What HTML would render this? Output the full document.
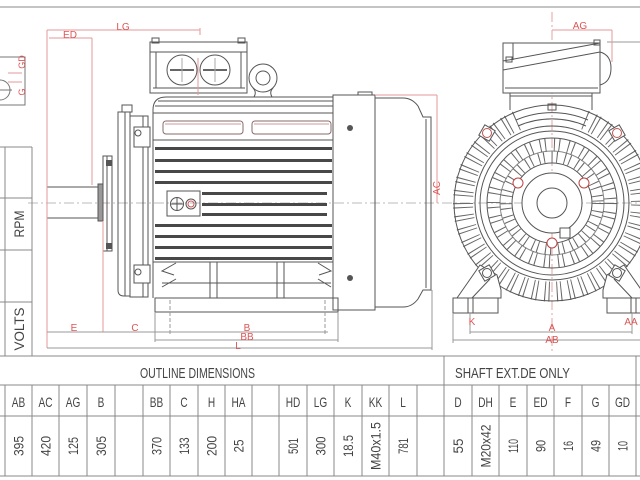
<!DOCTYPE html>
<html><head><meta charset="utf-8">
<style>
html,body{margin:0;padding:0;background:#fff;width:640px;height:480px;overflow:hidden}
svg{display:block}
text{font-family:"Liberation Sans",sans-serif}
</style></head><body>
<svg width="640" height="480" viewBox="0 0 640 480" xmlns="http://www.w3.org/2000/svg">
<rect width="640" height="480" fill="#fff"/>
<line x1="0" y1="7" x2="640" y2="7" stroke="#c4c4c4" stroke-width="2"/>

<!-- top-left shaft key detail -->
<g fill="none" stroke="#777" stroke-width="1">
  <rect x="-2" y="57" width="27" height="48"/>
  <circle cx="0" cy="90" r="10"/>
  <line x1="-5" y1="90" x2="12" y2="90"/>
</g>
<g stroke="#e59a9a" stroke-width="1">
  <line x1="8" y1="73" x2="22" y2="73"/>
  <line x1="8" y1="82" x2="22" y2="82"/>
</g>
<g fill="#d55" font-size="9">
  <text transform="translate(22 62) rotate(-90)" text-anchor="middle" dy="3">GD</text>
  <text transform="translate(22 92) rotate(-90)" text-anchor="middle" dy="3">G</text>
</g>

<!-- centerlines -->
<line x1="28" y1="203" x2="640" y2="203" stroke="#bbb" stroke-width="1" stroke-dasharray="10 3 2 3"/>
<line x1="552" y1="12" x2="552" y2="352" stroke="#e6a3a3" stroke-width="1" stroke-dasharray="10 3 2 3"/>

<!-- ===== SIDE VIEW ===== -->
<g fill="none" stroke="#555" stroke-width="1">
  <rect x="150" y="42" width="97" height="51"/>
  <line x1="150" y1="52" x2="247" y2="52"/>
  <rect x="152" y="38" width="7" height="5"/>
  <rect x="238" y="38" width="7" height="5"/>
  <line x1="156" y1="52" x2="156" y2="88"/>
  <line x1="241" y1="52" x2="241" y2="88"/>
  <line x1="153" y1="88" x2="245" y2="88"/>
  <circle cx="182" cy="70" r="15"/>
  <circle cx="215" cy="70" r="15"/>
  <line x1="170" y1="70" x2="194" y2="70" stroke="#666" stroke-width="2"/>
  <line x1="203" y1="70" x2="227" y2="70" stroke="#666" stroke-width="2"/>
  <line x1="182" y1="58" x2="182" y2="82" stroke="#aaa"/>
  <line x1="215" y1="58" x2="215" y2="82" stroke="#aaa"/>
  <circle cx="263" cy="78" r="14"/>
  <circle cx="263" cy="78" r="7"/>
  <path d="M253 88 Q257 92 254 97 M273 88 Q269 92 272 97"/>
  <path d="M153 298 V110 Q153 97 166 97 H333"/>
  <line x1="158" y1="101" x2="333" y2="101"/>
  <line x1="155" y1="106" x2="333" y2="106"/>
  <line x1="153" y1="113" x2="333" y2="113"/>
  <rect x="163" y="121" width="80" height="13" rx="3" stroke="#8a6a6a"/>
  <rect x="252" y="121" width="79" height="13" rx="3" stroke="#8a6a6a"/>
  <line x1="165" y1="124" x2="241" y2="124" stroke="#c99"/>
  <line x1="254" y1="124" x2="329" y2="124" stroke="#c99"/>
  <line x1="153" y1="140" x2="333" y2="140"/>
  <rect x="167" y="191" width="33" height="25"/>
  <circle cx="177" cy="204" r="6.5"/>
  <line x1="171" y1="204" x2="183" y2="204"/>
  <line x1="177" y1="198" x2="177" y2="210"/>
  <circle cx="191" cy="204" r="5"/>
  <circle cx="191" cy="204" r="3" stroke="#c55"/>
  <line x1="153" y1="262" x2="333" y2="262"/>
  <line x1="162" y1="283" x2="331" y2="283"/>
  <rect x="210" y="262" width="7" height="36"/>
  <rect x="277" y="262" width="7" height="36"/>
  <path d="M176 263 L162 271 L174 275 M176 279 L162 287"/>
  <path d="M318 263 L331 271 L319 275 M318 279 L331 287"/>
  <rect x="155" y="298" width="183" height="14"/>
  <line x1="333" y1="95" x2="333" y2="310"/>
  <rect x="333" y="95" width="42" height="215"/>
  <rect x="358" y="92" width="14" height="3"/>
  <path d="M375 98 H403 Q412 98 418 106 L423 117 H431 V290 H423 L418 299 Q412 307 403 307 H375"/>
  <line x1="426" y1="119" x2="426" y2="288"/>
  <path d="M118 112 V290 Q118 296 124 296 H130 V112 Z"/>
  <line x1="125" y1="112" x2="125" y2="296"/>
  <rect x="122" y="105" width="10" height="7"/>
  <rect x="130" y="116" width="18" height="181"/>
  <line x1="143" y1="116" x2="143" y2="297"/>
  <rect x="134" y="127" width="16" height="20" fill="#fff"/>
  <circle cx="138" cy="133" r="3"/>
  <rect x="134" y="265" width="16" height="18" fill="#fff"/>
  <circle cx="138" cy="272" r="3"/>
  <rect x="103" y="156" width="9" height="95"/>
  <line x1="107" y1="156" x2="107" y2="251"/>
  <rect x="47" y="187" width="51" height="31"/>
  <rect x="98" y="184" width="5" height="37" fill="#999"/>
</g>
<g fill="#555">
  <rect x="106" y="160" width="6" height="6"/>
  <rect x="106" y="243" width="6" height="6"/>
  <circle cx="350" cy="128" r="3"/>
  <circle cx="350" cy="278" r="3"/>
</g>
<g fill="#484848">
  <rect x="155" y="147" width="177" height="3"/>
  <rect x="155" y="159" width="177" height="3"/>
  <rect x="155" y="170" width="177" height="3"/>
  <rect x="155" y="181" width="177" height="3"/>
  <rect x="202" y="192" width="125" height="3"/>
  <rect x="202" y="203" width="125" height="3"/>
  <rect x="202" y="213" width="125" height="3"/>
  <rect x="155" y="224" width="177" height="3"/>
  <rect x="155" y="235" width="177" height="3"/>
  <rect x="155" y="246" width="177" height="3"/>
  <rect x="155" y="257" width="177" height="3"/>
</g>

<!-- side view dimensions -->
<g stroke="#e59a9a" stroke-width="1" fill="none">
  <line x1="47" y1="30" x2="200" y2="30"/>
  <line x1="200" y1="28" x2="200" y2="35"/>
  <line x1="47" y1="30" x2="47" y2="348"/>
  <line x1="49" y1="38" x2="92" y2="38"/>
  <line x1="92" y1="38" x2="92" y2="185"/>
  <line x1="198" y1="58" x2="198" y2="95"/>
  <line x1="103" y1="221" x2="103" y2="332"/>
  <line x1="375" y1="95" x2="437" y2="95"/>
  <line x1="437" y1="95" x2="437" y2="203"/>
</g>
<g stroke="#999" stroke-width="1" fill="none">
  <line x1="47" y1="332" x2="328" y2="332"/>
  <line x1="155" y1="340" x2="338" y2="340"/>
  <line x1="47" y1="348" x2="432" y2="348"/>
  <line x1="155" y1="312" x2="155" y2="342"/>
  <line x1="338" y1="312" x2="338" y2="342"/>
  <line x1="432" y1="290" x2="432" y2="350"/>
  <line x1="170" y1="300" x2="170" y2="334" stroke-dasharray="4 2"/>
  <line x1="325" y1="300" x2="325" y2="334" stroke-dasharray="4 2"/>
</g>
<g fill="#d55" font-size="10" text-anchor="middle">
  <text x="123" y="30">LG</text>
  <text x="70" y="38">ED</text>
  <text x="74" y="331">E</text>
  <text x="135" y="331">C</text>
  <text x="247" y="331">B</text>
  <text x="247" y="340">BB</text>
  <text x="238" y="349">L</text>
  <text transform="translate(437 188) rotate(-90)" dy="3">AC</text>
</g>

<!-- ===== FRONT VIEW ===== -->
<g fill="none" stroke="#555" stroke-width="1">
  <path d="M585 120 A89 89 0 1 1 519 120" stroke="#666" stroke-width="20" stroke-dasharray="1 7 1 3"/>
  <circle cx="552" cy="203" r="98"/>
  <circle cx="552" cy="203" r="77"/>
  <path d="M516 120 A91 91 0 0 1 588 120"/>
  <path d="M518 126 A85 85 0 0 1 586 126"/>
  <circle cx="552" cy="203" r="72"/>
  <circle cx="552" cy="203" r="65"/>
  <circle cx="552" cy="203" r="40"/>
  <circle cx="552" cy="203" r="52" stroke="#888"/>
  <circle cx="552" cy="203" r="58" stroke="#666" stroke-width="13" stroke-dasharray="1 8 1 4"/>
  <circle cx="552" cy="203" r="46" stroke="#666" stroke-width="11" stroke-dasharray="1 7 1 4"/>
  <circle cx="552" cy="203" r="30" fill="#fff"/>
  <circle cx="552" cy="203" r="15"/>
  <rect x="560" y="228" width="10" height="10" fill="#fff"/>
  <rect x="503" y="43" width="97" height="50" fill="#fff"/>
  <line x1="503" y1="61" x2="600" y2="43"/>
  <line x1="503" y1="70" x2="600" y2="52"/>
  <line x1="513" y1="43" x2="513" y2="60"/>
  <rect x="506" y="57" width="6" height="5"/>
  <rect x="594" y="40" width="6" height="5"/>
  <path d="M600 52 Q611 55 611 68 Q611 82 600 85"/>
  <line x1="505" y1="88" x2="598" y2="88"/>
  <path d="M510 93 V110 M592 93 V110 M510 96 H592" fill="#fff"/>
  <rect x="548" y="104" width="8" height="6"/>
  <path d="M457 298 L480 265 L497 275 L501 290 L501 298 Z" fill="#fff"/>
  <line x1="472" y1="298" x2="490" y2="279"/>
  <rect x="453" y="298" width="45" height="15" fill="#fff"/>
  <line x1="468" y1="298" x2="468" y2="313"/>
  <line x1="473" y1="298" x2="473" y2="313"/>
  <path d="M647 298 L624 265 L607 275 L603 290 L603 298 Z" fill="#fff"/>
  <line x1="632" y1="298" x2="614" y2="279"/>
  <rect x="607" y="298" width="45" height="15" fill="#fff"/>
  <line x1="631" y1="298" x2="631" y2="313"/>
  <line x1="636" y1="298" x2="636" y2="313"/>
  <rect x="481" y="127" width="12" height="12" transform="rotate(30 487 133)" fill="#fff"/>
  <circle cx="487" cy="133" r="4.5" stroke="#b55"/>
  <rect x="611" y="127" width="12" height="12" transform="rotate(-30 617 133)" fill="#fff"/>
  <circle cx="617" cy="133" r="4.5" stroke="#b55"/>
  <rect x="481" y="267" width="12" height="12" transform="rotate(-30 487 273)" fill="#fff"/>
  <circle cx="487" cy="273" r="4.5"/>
  <rect x="611" y="267" width="12" height="12" transform="rotate(30 617 273)" fill="#fff"/>
  <circle cx="617" cy="273" r="4.5"/>
  <circle cx="518" cy="183" r="5" stroke="#b44" fill="#fff"/>
  <circle cx="584" cy="183" r="5" stroke="#b44" fill="#fff"/>
  <circle cx="552" cy="243" r="5" stroke="#b44" fill="#fff"/>
</g>
<g stroke="#999" stroke-width="1" fill="none">
  <line x1="470" y1="332" x2="632" y2="332"/>
  <line x1="453" y1="340" x2="640" y2="340"/>
  <line x1="453" y1="313" x2="453" y2="343"/>
  <line x1="470" y1="313" x2="470" y2="334"/>
  <line x1="632" y1="313" x2="632" y2="334"/>
  <line x1="607" y1="42" x2="640" y2="42"/>
</g>
<g stroke="#e59a9a" stroke-width="1">
  <line x1="552" y1="30" x2="612" y2="30"/>
  <line x1="612" y1="30" x2="612" y2="62"/>
</g>
<g fill="#d55" font-size="10" text-anchor="middle">
  <text x="580" y="29">AG</text>
  <text x="472" y="325">K</text>
  <text x="631" y="325">AA</text>
  <text x="552" y="331">A</text>
  <text x="552" y="343">AB</text>
</g>

<!-- ===== LEFT PANEL ===== -->
<g stroke="#888" stroke-width="1">
  <line x1="0" y1="147" x2="32" y2="147"/>
  <line x1="0" y1="198" x2="32" y2="198"/>
  <line x1="0" y1="250" x2="32" y2="250"/>
  <line x1="0" y1="302" x2="32" y2="302"/>
  <line x1="5" y1="147" x2="5" y2="356"/>
  <line x1="32" y1="147" x2="32" y2="356"/>
</g>
<g fill="#444" font-size="14" text-anchor="middle">
  <text transform="translate(19 224) rotate(-90)" dy="5" textLength="27" lengthAdjust="spacingAndGlyphs">RPM</text>
  <text transform="translate(19 329) rotate(-90)" dy="5" textLength="43" lengthAdjust="spacingAndGlyphs">VOLTS</text>
</g>

<!-- ===== TABLE ===== -->
<g stroke="#888" stroke-width="1">
  <line x1="0" y1="356" x2="640" y2="356"/>
  <line x1="0" y1="385" x2="640" y2="385"/>
  <line x1="0" y1="416" x2="640" y2="416"/>
  <line x1="0" y1="476" x2="640" y2="476"/>
  <line x1="444" y1="356" x2="444" y2="476"/>
  <line x1="636" y1="356" x2="636" y2="476"/>
  <line x1="5" y1="385" x2="5" y2="476"/>
  <line x1="32" y1="385" x2="32" y2="476"/>
  <line x1="59" y1="385" x2="59" y2="476"/>
  <line x1="87" y1="385" x2="87" y2="476"/>
  <line x1="115" y1="385" x2="115" y2="476"/>
  <line x1="143" y1="385" x2="143" y2="476"/>
  <line x1="170" y1="385" x2="170" y2="476"/>
  <line x1="198" y1="385" x2="198" y2="476"/>
  <line x1="225" y1="385" x2="225" y2="476"/>
  <line x1="252" y1="385" x2="252" y2="476"/>
  <line x1="279" y1="385" x2="279" y2="476"/>
  <line x1="307" y1="385" x2="307" y2="476"/>
  <line x1="334" y1="385" x2="334" y2="476"/>
  <line x1="362" y1="385" x2="362" y2="476"/>
  <line x1="389" y1="385" x2="389" y2="476"/>
  <line x1="417" y1="385" x2="417" y2="476"/>
  <line x1="472" y1="385" x2="472" y2="476"/>
  <line x1="499" y1="385" x2="499" y2="476"/>
  <line x1="527" y1="385" x2="527" y2="476"/>
  <line x1="554" y1="385" x2="554" y2="476"/>
  <line x1="582" y1="385" x2="582" y2="476"/>
  <line x1="609" y1="385" x2="609" y2="476"/>
</g>
<g fill="#444" font-size="15">
  <text x="140" y="378" textLength="115" lengthAdjust="spacingAndGlyphs">OUTLINE DIMENSIONS</text>
  <text x="455" y="378" textLength="115" lengthAdjust="spacingAndGlyphs">SHAFT EXT.DE ONLY</text>
</g>
<g fill="#444" font-size="14" text-anchor="middle">
  <text transform="translate(18.5 407) scale(.72 1)">AB</text>
  <text transform="translate(45.5 407) scale(.72 1)">AC</text>
  <text transform="translate(73 407) scale(.72 1)">AG</text>
  <text transform="translate(101 407) scale(.72 1)">B</text>
  <text transform="translate(156.5 407) scale(.72 1)">BB</text>
  <text transform="translate(184 407) scale(.72 1)">C</text>
  <text transform="translate(211.5 407) scale(.72 1)">H</text>
  <text transform="translate(238.5 407) scale(.72 1)">HA</text>
  <text transform="translate(293 407) scale(.72 1)">HD</text>
  <text transform="translate(320.5 407) scale(.72 1)">LG</text>
  <text transform="translate(348 407) scale(.72 1)">K</text>
  <text transform="translate(375.5 407) scale(.72 1)">KK</text>
  <text transform="translate(403 407) scale(.72 1)">L</text>
  <text transform="translate(458 407) scale(.72 1)">D</text>
  <text transform="translate(485.5 407) scale(.72 1)">DH</text>
  <text transform="translate(513 407) scale(.72 1)">E</text>
  <text transform="translate(540.5 407) scale(.72 1)">ED</text>
  <text transform="translate(568 407) scale(.72 1)">F</text>
  <text transform="translate(595.5 407) scale(.72 1)">G</text>
  <text transform="translate(622.5 407) scale(.72 1)">GD</text>
</g>
<g fill="#444" font-size="14" text-anchor="middle">
  <text transform="translate(18.5 446) rotate(-90)" dy="5" textLength="20" lengthAdjust="spacingAndGlyphs">395</text>
  <text transform="translate(45.5 446) rotate(-90)" dy="5" textLength="20" lengthAdjust="spacingAndGlyphs">420</text>
  <text transform="translate(73 446) rotate(-90)" dy="5" textLength="18" lengthAdjust="spacingAndGlyphs">125</text>
  <text transform="translate(101 446) rotate(-90)" dy="5" textLength="20" lengthAdjust="spacingAndGlyphs">305</text>
  <text transform="translate(156.5 446) rotate(-90)" dy="5" textLength="18" lengthAdjust="spacingAndGlyphs">370</text>
  <text transform="translate(184 446) rotate(-90)" dy="5" textLength="17" lengthAdjust="spacingAndGlyphs">133</text>
  <text transform="translate(211.5 446) rotate(-90)" dy="5" textLength="20" lengthAdjust="spacingAndGlyphs">200</text>
  <text transform="translate(238.5 446) rotate(-90)" dy="5" textLength="13" lengthAdjust="spacingAndGlyphs">25</text>
  <text transform="translate(293 446) rotate(-90)" dy="5" textLength="16" lengthAdjust="spacingAndGlyphs">501</text>
  <text transform="translate(320.5 446) rotate(-90)" dy="5" textLength="19" lengthAdjust="spacingAndGlyphs">300</text>
  <text transform="translate(348 446) rotate(-90)" dy="5" textLength="22" lengthAdjust="spacingAndGlyphs">18.5</text>
  <text transform="translate(375.5 446) rotate(-90)" dy="5" textLength="48" lengthAdjust="spacingAndGlyphs">M40x1.5</text>
  <text transform="translate(403 446) rotate(-90)" dy="5" textLength="16" lengthAdjust="spacingAndGlyphs">781</text>
  <text transform="translate(458 446) rotate(-90)" dy="5" textLength="15" lengthAdjust="spacingAndGlyphs">55</text>
  <text transform="translate(485.5 446) rotate(-90)" dy="5" textLength="43" lengthAdjust="spacingAndGlyphs">M20x42</text>
  <text transform="translate(513 446) rotate(-90)" dy="5" textLength="14" lengthAdjust="spacingAndGlyphs">110</text>
  <text transform="translate(540.5 446) rotate(-90)" dy="5" textLength="12" lengthAdjust="spacingAndGlyphs">90</text>
  <text transform="translate(568 446) rotate(-90)" dy="5" textLength="10" lengthAdjust="spacingAndGlyphs">16</text>
  <text transform="translate(595.5 446) rotate(-90)" dy="5" textLength="12" lengthAdjust="spacingAndGlyphs">49</text>
  <text transform="translate(622.5 446) rotate(-90)" dy="5" textLength="10" lengthAdjust="spacingAndGlyphs">10</text>
</g>
</svg>
</body></html>
